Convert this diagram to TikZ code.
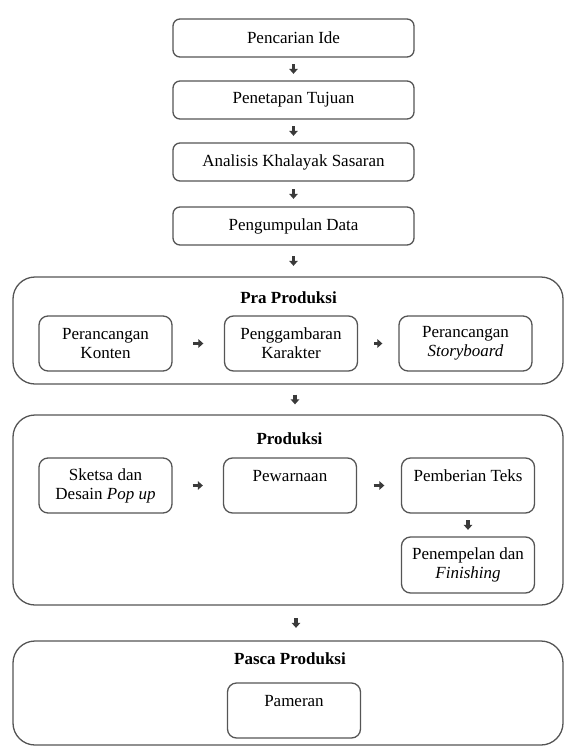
\documentclass[tikz,border=0pt]{standalone}
\usepackage{fontspec}
\setmainfont{Liberation Serif}
\usetikzlibrary{arrows.meta}
\definecolor{lineg}{HTML}{555555}
\definecolor{arrg}{HTML}{3a3a3a}
\begin{document}
\begin{tikzpicture}[x=1pt,y=-1pt,
    box/.style={draw=lineg,line width=1.3pt,rounded corners=7pt,minimum width=241pt,minimum height=38pt,inner sep=2pt,font=\fontsize{17}{19}\selectfont},
    sub/.style={draw=lineg,line width=1.3pt,rounded corners=9pt,minimum width=133pt,minimum height=55pt,align=center,inner sep=2pt,font=\fontsize{17}{19}\selectfont},
    stage/.style={draw=lineg,line width=1.3pt,rounded corners=22pt,minimum width=550pt},
    ttl/.style={font=\bfseries\fontsize{17}{19}\selectfont},
    blk/.style={draw=arrg,line width=3.4pt,-{Triangle[width=8.5pt,length=5pt]}}]
    \useasboundingbox (0,0) rectangle (564,747);
    % stages
    \node[stage,minimum height=107pt] (pra) at (288,330.5) {};
    \node[stage,minimum height=190pt] (prod) at (288,510) {};
    \node[stage,minimum height=104pt] (pasca) at (288,693) {};
    % first steps
    \node[box] (ide) at (293.5,38) {Pencarian Ide};
    \node[box] (tujuan) at (293.5,100) {Penetapan Tujuan};
    \node[box] (sasaran) at (293.5,162) {Analisis Khalayak Sasaran};
    \node[box] (data) at (293.5,226) {Pengumpulan Data};
    % pra produksi
    \node[ttl] (tpra) at (288.5,298) {Pra Produksi};
    \node[sub] (konten) at (105.5,343.5) {Perancangan\\Konten};
    \node[sub] (karakter) at (291,343.5) {Penggambaran\\Karakter};
    \node[sub] (story) at (465.5,343.5) {Perancangan\\\textit{Storyboard}};
    % produksi
    \node[ttl] (tprod) at (289.5,439) {Produksi};
    \node[sub] (sketsa) at (105.5,485.5) {Sketsa dan\\Desain \textit{Pop up}};
    \node[sub] (warna) at (290,485.5) {Pewarnaan\\~};
    \node[sub] (teks) at (468,485.5) {Pemberian Teks\\~};
    \node[sub,minimum height=56pt] (tempel) at (468,565) {Penempelan dan\\\textit{Finishing}};
    % pasca produksi
    \node[ttl] (tpasca) at (290,659) {Pasca Produksi};
    \node[sub] (pameran) at (294,710.5) {Pameran\\~};
    % arrows
    \draw[blk,shorten <=6.5pt,shorten >=6.5pt] (ide) -- (tujuan);
    \draw[blk,shorten <=6.5pt,shorten >=6.5pt] (tujuan) -- (sasaran);
    \draw[blk,shorten <=7.5pt,shorten >=7.5pt] (sasaran) -- (data);
    \draw[blk,shorten <=10.5pt,shorten >=10.5pt] (data) -- (data.south |- pra.north);
    \draw[blk,shorten <=20.5pt,shorten >=20.5pt] (konten) -- (karakter);
    \draw[blk,shorten <=16pt,shorten >=16pt] (karakter) -- (story);
    \draw[blk,shorten <=10pt,shorten >=10pt] ([xshift=7pt]pra.south) -- ([xshift=7pt]prod.north);
    \draw[blk,shorten <=20pt,shorten >=20pt] (sketsa) -- (warna);
    \draw[blk,shorten <=16.5pt,shorten >=16.5pt] (warna) -- (teks);
    \draw[blk,shorten <=6.5pt,shorten >=6.5pt] (teks) -- (tempel);
    \draw[blk,shorten <=12.5pt,shorten >=12.5pt] ([xshift=8pt]prod.south) -- ([xshift=8pt]pasca.north);
\end{tikzpicture}
\end{document}
